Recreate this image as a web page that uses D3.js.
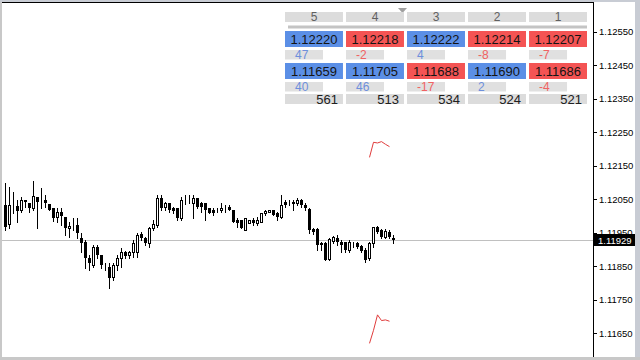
<!DOCTYPE html>
<meta charset="utf-8">
<style>
body { margin: 0; background: #fff; }
svg { font-family: "Liberation Sans", Arial, sans-serif; display: block; }
.axis text { font-size: 9.5px; fill: #000; }
.axis line { stroke: #000; shape-rendering: crispEdges; }
.axis path { display: none; }
</style>
<body>
<script src="https://cdnjs.cloudflare.com/ajax/libs/d3/7.8.5/d3.min.js"></script>
<script>
var width = 640, height = 360;

// candles, oldest first
var open = [1.12034,1.11977,1.12034,1.12031,1.12019,1.12049,1.12040,1.12025,1.12058,1.12049,
1.12049,1.12037,1.12025,1.11998,1.12013,1.11998,1.11965,1.11974,1.11974,1.11935,
1.11923,1.11875,1.11854,1.11908,1.11884,1.11848,1.11848,1.11818,1.11854,1.11875,
1.11893,1.11884,1.11893,1.11893,1.11947,1.11935,1.11920,1.11965,1.11974,1.12055,
1.12028,1.12040,1.12025,1.12025,1.11995,1.12049,1.12049,1.12040,1.12055,1.12040,
1.12040,1.12025,1.12019,1.12019,1.12019,1.12025,1.12028,1.12019,1.11989,1.11989,
1.11959,1.11980,1.11989,1.11980,1.11983,1.12010,1.12013,1.12019,1.12010,1.11998,
1.12043,1.12040,1.12040,1.12040,1.12049,1.12034,1.12022,1.11962,1.11962,1.11920,
1.11920,1.11872,1.11926,1.11935,1.11923,1.11923,1.11899,1.11920,1.11920,1.11911,
1.11899,1.11875,1.11920,1.11968,1.11959,1.11938,1.11953,1.11935];
var high = [1.12100,1.12088,1.12073,1.12049,1.12058,1.12049,1.12040,1.12103,1.12058,1.12085,
1.12064,1.12037,1.12025,1.12025,1.12025,1.11998,1.11983,1.11995,1.11995,1.11950,
1.11929,1.11884,1.11914,1.11914,1.11884,1.11860,1.11860,1.11860,1.11884,1.11905,
1.11896,1.11896,1.11929,1.11950,1.11953,1.11938,1.11968,1.11989,1.12064,1.12064,
1.12043,1.12040,1.12028,1.12025,1.12058,1.12064,1.12064,1.12064,1.12055,1.12043,
1.12040,1.12025,1.12025,1.12025,1.12040,1.12034,1.12034,1.12019,1.11995,1.11989,
1.11995,1.11989,1.11995,1.11998,1.12010,1.12019,1.12019,1.12019,1.12013,1.12064,
1.12049,1.12049,1.12049,1.12055,1.12052,1.12040,1.12025,1.11965,1.11965,1.11923,
1.11923,1.11935,1.11941,1.11944,1.11929,1.11923,1.11929,1.11923,1.11923,1.11914,
1.11905,1.11923,1.11968,1.11971,1.11962,1.11962,1.11959,1.11944];
var low = [1.11959,1.11965,1.12010,1.11983,1.12013,1.12028,1.12013,1.12019,1.11965,1.12025,
1.12028,1.12019,1.11986,1.11983,1.11974,1.11944,1.11938,1.11959,1.11935,1.11893,
1.11845,1.11839,1.11848,1.11875,1.11845,1.11839,1.11785,1.11809,1.11839,1.11848,
1.11875,1.11875,1.11878,1.11878,1.11929,1.11914,1.11908,1.11959,1.11968,1.12019,
1.12019,1.12013,1.12010,1.11989,1.11989,1.12037,1.12040,1.11995,1.12025,1.12013,
1.11989,1.12010,1.12004,1.12013,1.12013,1.12013,1.12019,1.11983,1.11968,1.11965,
1.11959,1.11980,1.11974,1.11974,1.11983,1.12004,1.12013,1.12004,1.11989,1.11995,
1.12028,1.12034,1.12019,1.12034,1.12028,1.12019,1.11950,1.11947,1.11899,1.11899,
1.11869,1.11869,1.11920,1.11914,1.11893,1.11893,1.11893,1.11908,1.11905,1.11893,
1.11863,1.11869,1.11908,1.11950,1.11935,1.11935,1.11935,1.11920];
var close = [1.11968,1.12034,1.12034,1.12016,1.12049,1.12043,1.12025,1.12061,1.12043,1.12049,
1.12040,1.12019,1.11995,1.12013,1.12001,1.11965,1.11971,1.11974,1.11950,1.11920,
1.11875,1.11860,1.11908,1.11884,1.11854,1.11848,1.11815,1.11854,1.11875,1.11893,
1.11881,1.11893,1.11920,1.11944,1.11935,1.11920,1.11965,1.11977,1.12055,1.12025,
1.12040,1.12019,1.12016,1.11995,1.12049,1.12049,1.12049,1.12055,1.12028,1.12028,
1.12019,1.12010,1.12010,1.12019,1.12025,1.12025,1.12019,1.11983,1.11980,1.11965,
1.11995,1.11989,1.11980,1.11989,1.12010,1.12016,1.12019,1.12004,1.11998,1.12034,
1.12034,1.12040,1.12043,1.12049,1.12034,1.12025,1.11959,1.11953,1.11914,1.11914,
1.11869,1.11932,1.11938,1.11923,1.11914,1.11899,1.11923,1.11920,1.11908,1.11896,
1.11869,1.11920,1.11968,1.11953,1.11938,1.11956,1.11938,1.11929];

// red indicator lines over the last bars
var lineBars = [92, 93, 94, 95, 96, 97];
var upperLine = [1.12175, 1.12220, 1.12218, 1.12222, 1.12214, 1.12207];
var lowerLine = [1.11620, 1.11659, 1.11705, 1.11688, 1.11690, 1.11686];

// table
var cols = ["5", "4", "3", "2", "1"];
var hiPrice = [1.12220, 1.12218, 1.12222, 1.12214, 1.12207];
var hiDelta = [47, -2, 4, -8, -7];
var loPrice = [1.11659, 1.11705, 1.11688, 1.11690, 1.11686];
var loDelta = [40, 46, -17, 2, -4];
var spread = [561, 513, 534, 524, 521];

var priceTicks = [1.12550, 1.12450, 1.12350, 1.12250, 1.12150, 1.12050, 1.11950, 1.11850, 1.11750, 1.11650];
var lastPrice = 1.11929;

var svg = d3.select("body").append("svg")
  .attr("width", width)
  .attr("height", height);

var axisX = 593;

var y = d3.scaleLinear().domain([1.11650, 1.12550]).range([333.3, 31.7]);
var x = d3.scaleLinear().domain([1, 98]).range([5, 393]);

// frame
svg.append("rect").attr("x", 0).attr("y", 0).attr("width", width).attr("height", height).attr("fill", "#fff");
svg.append("rect").attr("x", 0).attr("y", 0).attr("width", 2).attr("height", height).attr("fill", "#c8c8c8");
svg.append("rect").attr("x", 635).attr("y", 0).attr("width", 5).attr("height", height).attr("fill", "#c8ccd4");
svg.append("rect").attr("x", 0).attr("y", 357).attr("width", width).attr("height", 3).attr("fill", "#c8c8c8");
svg.append("rect").attr("x", 0).attr("y", 0).attr("width", 635).attr("height", 2).attr("fill", "#c8ccd4");
svg.append("line").attr("x1", 2).attr("x2", axisX).attr("y1", 2.5).attr("y2", 2.5)
  .attr("stroke", "#000").attr("shape-rendering", "crispEdges");
svg.append("line").attr("x1", axisX + 0.5).attr("x2", axisX + 0.5).attr("y1", 2).attr("y2", 357)
  .attr("stroke", "#000").attr("shape-rendering", "crispEdges");

// last price line
var ly = Math.round(y(lastPrice)) + 0.5;
svg.append("line").attr("x1", 2).attr("x2", axisX).attr("y1", ly).attr("y2", ly)
  .attr("stroke", "#c0c0c0").attr("shape-rendering", "crispEdges");

// y axis
svg.append("g").attr("class", "axis")
  .attr("transform", "translate(" + (axisX + 1) + ",0)")
  .call(d3.axisRight(y).tickValues(priceTicks).tickSize(3).tickPadding(2).tickFormat(d3.format(".5f")));

// last price label
svg.append("rect").attr("x", axisX + 1).attr("y", ly - 6.5).attr("width", 41).attr("height", 12).attr("fill", "#000");
svg.append("text").attr("x", axisX + 5).attr("y", ly + 3.5).attr("fill", "#fff")
  .style("font-size", "9.5px").text(d3.format(".5f")(lastPrice));

// candles
var bars = d3.range(open.length).map(function (i) {
  return { i: i + 1, o: open[i], h: high[i], l: low[i], c: close[i] };
});
var candle = svg.append("g").selectAll("g").data(bars).enter().append("g")
  .attr("shape-rendering", "crispEdges");
candle.append("line")
  .attr("x1", function (d) { return x(d.i) + 0.5; })
  .attr("x2", function (d) { return x(d.i) + 0.5; })
  .attr("y1", function (d) { return Math.round(y(d.h)); })
  .attr("y2", function (d) { return Math.round(y(d.l)) + 1; })
  .attr("stroke", "#000");
candle.append("rect")
  .attr("x", function (d) { return d.c >= d.o ? x(d.i) - 0.5 : x(d.i) - 1; })
  .attr("y", function (d) {
    var t = Math.round(y(Math.max(d.o, d.c)));
    return d.c >= d.o ? t + 0.5 : t;
  })
  .attr("width", function (d) { return d.c >= d.o ? 2 : 3; })
  .attr("height", function (d) {
    var h = Math.round(y(Math.min(d.o, d.c))) - Math.round(y(Math.max(d.o, d.c)));
    return d.c >= d.o ? Math.max(h, 0) : Math.max(h, 1);
  })
  .attr("fill", function (d) { return d.c >= d.o ? "#fff" : "#000"; })
  .attr("stroke", function (d) { return d.c >= d.o ? "#000" : "none"; });

// indicator lines
var line = d3.line()
  .x(function (d) { return x(d[0]) + 0.5; })
  .y(function (d) { return y(d[1]); });
[upperLine, lowerLine].forEach(function (vals) {
  svg.append("path")
    .datum(lineBars.map(function (b, k) { return [b, vals[k]]; }))
    .attr("d", line)
    .attr("fill", "none")
    .attr("stroke", "#e03c3c")
    .attr("stroke-width", 1);
});

// chart shift marker
svg.append("path").attr("d", "M398,8L407,8L402.5,13Z").attr("fill", "#a0a0a0");

// table
var band = d3.scaleBand().domain(cols).range([285, 587]).paddingInner(0.05);
var cw = band.bandwidth();
var fmt = d3.format(".5f");
var blue = "#5b8fe6", red = "#f45454";
var txtBlue = "#6d8fdc", txtRed = "#f06262";

svg.append("rect").attr("x", 288).attr("y", 25.5).attr("width", 299).attr("height", 3).attr("fill", "#c4c4c4");

var col = svg.append("g").selectAll("g").data(cols).enter().append("g")
  .attr("transform", function (d) { return "translate(" + band(d) + ",0)"; });

col.append("rect").attr("y", 12).attr("width", cw).attr("height", 10).attr("fill", "#dcdcdc");
col.append("text").attr("x", cw / 2).attr("y", 21).attr("text-anchor", "middle")
  .attr("fill", "#606060").style("font-size", "12px").text(function (d) { return d; });

[[hiPrice, hiDelta, 31], [loPrice, loDelta, 63]].forEach(function (row) {
  var p = row[0], dl = row[1], top = row[2];
  col.append("rect").attr("y", top).attr("width", cw).attr("height", 16)
    .attr("fill", function (d, k) { return dl[k] >= 0 ? blue : red; });
  col.append("text").attr("x", cw / 2).attr("y", top + 13).attr("text-anchor", "middle")
    .attr("fill", "#141414").style("font-size", "13px")
    .text(function (d, k) { return fmt(p[k]); });
  col.append("rect").attr("y", top + 19).attr("width", 38).attr("height", 9.5).attr("fill", "#e0e0e0");
  col.append("text").attr("x", 10).attr("y", top + 28).attr("fill", function (d, k) { return dl[k] >= 0 ? txtBlue : txtRed; })
    .style("font-size", "12px").text(function (d, k) { return dl[k]; });
});

col.append("rect").attr("y", 94).attr("width", cw).attr("height", 10).attr("fill", "#dcdcdc");
col.append("text").attr("x", cw - 5).attr("y", 103.5).attr("text-anchor", "end")
  .attr("fill", "#202020").style("font-size", "13px").text(function (d, k) { return spread[k]; });

</script>
